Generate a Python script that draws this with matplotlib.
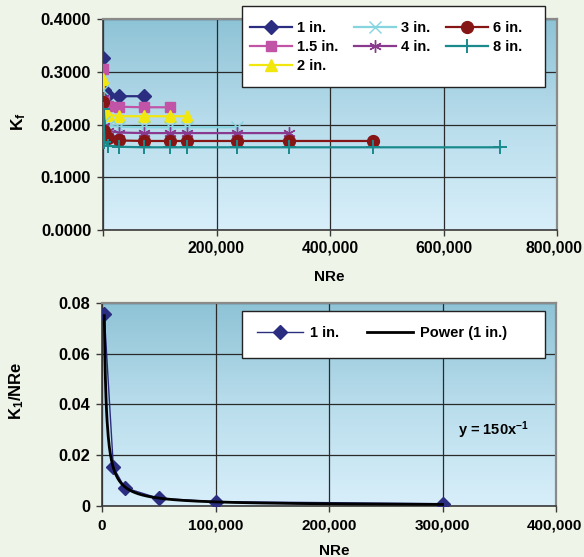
import numpy as np
import matplotlib
matplotlib.use("Agg")
import matplotlib.pyplot as plt
from matplotlib.patches import Rectangle
from matplotlib.transforms import ScaledTranslation

plt.rcParams['font.family'] = ['Liberation Sans', 'DejaVu Sans']
plt.rcParams['font.weight'] = 'bold'
plt.rcParams['mathtext.fontset'] = 'custom'
plt.rcParams['mathtext.rm'] = 'Liberation Sans:bold'
plt.rcParams['mathtext.it'] = 'Liberation Sans:bold'
plt.rcParams['mathtext.bf'] = 'Liberation Sans:bold'

# ---------------- data ----------------
nre_grid = [800, 2500, 9000, 28000, 72000, 118000, 148000, 237000, 327000, 476000, 700000]
sizes = ["1 in.", "1.5 in.", "2 in.", "3 in.", "4 in.", "6 in.", "8 in."]
kf_1in = [0.327, 0.266, 0.256, 0.254, 0.254]
kf_15in = [0.306, 0.245, 0.236, 0.234, 0.233, 0.233]
kf_2in = [0.287, 0.226, 0.219, 0.216, 0.216, 0.216, 0.216]
kf_3in = [0.265, 0.205, 0.198, 0.196, 0.195, 0.195, 0.195, 0.195]
kf_4in = [0.250, 0.198, 0.188, 0.185, 0.184, 0.184, 0.184, 0.184, 0.184]
kf_6in = [0.243, 0.187, 0.174, 0.170, 0.169, 0.169, 0.169, 0.169, 0.169, 0.169]
kf_8in = [0.230, 0.168, 0.160, 0.158, 0.157, 0.157, 0.157, 0.157, 0.157, 0.157, 0.157]

nre_1in = [2000, 10000, 20000, 50000, 100000, 300000]
k1_over_nre = [0.0755, 0.0152, 0.0071, 0.0029, 0.0016, 0.0008]
trend_coef = 150.0
trend_exp = -1.0

top_xticks = [0, 200000, 400000, 600000, 800000]
top_xlabels = ["", "200,000", "400,000", "600,000", "800,000"]
top_yticks = [0.0, 0.1, 0.2, 0.3, 0.4]
top_ylabels = ["0.0000", "0.1000", "0.2000", "0.3000", "0.4000"]
bot_xticks = [0, 100000, 200000, 300000, 400000]
bot_xlabels = ["0", "100,000", "200,000", "300,000", "400,000"]
bot_yticks = [0, 0.02, 0.04, 0.06, 0.08]
bot_ylabels = ["0", "0.02", "0.04", "0.06", "0.08"]

# ---------------- styles ----------------
W, H = 584, 557
fig = plt.figure(figsize=(W / 100, H / 100), dpi=100)
fig.patch.set_facecolor('#EFF4E8')

def px_rect(l, t, r, b):
    return [l / W, 1 - b / H, (r - l) / W, (b - t) / H]

grad_cmap = matplotlib.colors.LinearSegmentedColormap.from_list(
    'bg', ['#D8EFFA', '#B9DDEC', '#8EC3D6'])

def style_axes(ax, xlim, ylim):
    grad = np.linspace(0, 1, 256).reshape(-1, 1)
    ax.imshow(grad, cmap=grad_cmap, origin='lower', extent=(0, 1, 0, 1),
              transform=ax.transAxes, aspect='auto', zorder=-10)
    ax.set_xlim(*xlim)
    ax.set_ylim(*ylim)
    ax.grid(True, color='#2a2a2a', linewidth=0.9, zorder=0)
    ax.set_axisbelow(True)
    for s in ['top', 'right']:
        ax.spines[s].set_color('#8a8a8a')
        ax.spines[s].set_linewidth(1.6)
    for s in ['left', 'bottom']:
        ax.spines[s].set_color('#3a3a3a')
        ax.spines[s].set_linewidth(1.2)
    ax.tick_params(direction='out', length=4.5, width=1.0, color='#3a3a3a')

# ---------------- top chart ----------------
ax1 = fig.add_axes(px_rect(103, 19.3, 557, 230))
style_axes(ax1, (0, 800000), (0, 0.4))

series = [
    (kf_1in, '#2B2E80', 'D', 7, 1.6, None),
    (kf_15in, '#C254A8', 's', 6.5, 1.6, None),
    (kf_2in, '#F2E60F', '^', 8, 1.6, None),
    (kf_3in, '#86D4E0', 'x', 8, 1.6, 1.0),
    (kf_4in, '#8A3A8E', (6, 2, 0), 9, 1.6, 1.0),
    (kf_6in, '#861515', 'o', 8.5, 1.6, None),
    (kf_8in, '#1A8A8C', '+', 10, 1.6, 1.4),
]
handles = []
for (vals, col, mk, ms, lw, mew), lab in zip(series, sizes):
    kw = dict(color=col, marker=mk, markersize=ms, linewidth=lw,
              markerfacecolor=col, markeredgecolor=col, label=lab, zorder=3)
    if mew is not None:
        kw['markeredgewidth'] = mew
    h, = ax1.plot(nre_grid[:len(vals)], vals, **kw)
    handles.append(h)

ax1.set_xticks(top_xticks)
ax1.set_xticklabels(top_xlabels, fontsize=11.3, fontweight='bold')
ax1.set_yticks(top_yticks)
ax1.set_yticklabels(top_ylabels, fontsize=12, fontweight='bold')
ax1.tick_params(axis='x', pad=3)
ax1.tick_params(axis='y', pad=4)
last = ax1.get_xticklabels()[-1]
last.set_transform(last.get_transform() + ScaledTranslation(-2.5 / 72, 0, fig.dpi_scale_trans))

fig.text(329 / W, 1 - 276.7 / H, "NRe", ha='center', va='center',
         fontsize=11, fontweight='bold')
fig.text(19 / W, 1 - 122 / H, "K$_f$", ha='center', va='center',
         rotation=90, fontsize=12.5, fontweight='bold')

# top legend box
fig.patches.append(Rectangle((242 / W, 1 - 87 / H), 303 / W, 81 / H,
                             transform=fig.transFigure, facecolor='white',
                             edgecolor='#222222', linewidth=1.0, zorder=5))
leg1 = fig.legend(handles=handles, loc='upper left',
                  bbox_to_anchor=(250 / W, 1 - 21.5 / H), ncol=3,
                  frameon=False, borderpad=0, borderaxespad=0,
                  handlelength=2.9, handletextpad=0.3, columnspacing=1.1,
                  labelspacing=0.33, prop={'size': 10.5, 'weight': 'bold'})
leg1.set_zorder(6)

# ---------------- bottom chart ----------------
ax2 = fig.add_axes(px_rect(102, 303, 556, 505.7))
style_axes(ax2, (0, 400000), (0, 0.08))

xt = np.linspace(min(nre_1in), max(nre_1in), 600)
h_data, = ax2.plot(nre_1in, k1_over_nre, color='#2B2E80', marker='D',
                   markersize=7, linewidth=1.0, label='1 in.', zorder=3)
h_tr, = ax2.plot(xt, trend_coef * xt ** trend_exp, color='black',
                 linewidth=2.0, label='Power (1 in.)', zorder=4)

ax2.set_xticks(bot_xticks)
ax2.set_xticklabels(bot_xlabels, fontsize=11, fontweight='bold')
ax2.set_yticks(bot_yticks)
ax2.set_yticklabels(bot_ylabels, fontsize=11.8, fontweight='bold')
ax2.tick_params(axis='x', pad=5)
ax2.tick_params(axis='y', pad=4)
last2 = ax2.get_xticklabels()[-1]
last2.set_transform(last2.get_transform() + ScaledTranslation(-1 / 72, 0, fig.dpi_scale_trans))

fig.text(334 / W, 1 - 551 / H, "NRe", ha='center', va='center',
         fontsize=11, fontweight='bold')
fig.text(17 / W, 1 - 391 / H, "K$_1$/NRe", ha='center', va='center',
         rotation=90, fontsize=12, fontweight='bold')
fig.text(493 / W, 1 - 430 / H, "y = 150x$^{\u22121}$", ha='center', va='center',
         fontsize=10.5, fontweight='bold')

fig.patches.append(Rectangle((242 / W, 1 - 358 / H), 303 / W, 47.3 / H,
                             transform=fig.transFigure, facecolor='white',
                             edgecolor='#222222', linewidth=1.0, zorder=5))
leg2 = fig.legend(handles=[h_data, h_tr], loc='upper left',
                  bbox_to_anchor=(257 / W, 1 - 326 / H), ncol=2,
                  frameon=False, borderpad=0, borderaxespad=0,
                  handlelength=3.15, handletextpad=0.5, columnspacing=1.9,
                  prop={'size': 10.5, 'weight': 'bold'})
leg2.set_zorder(6)

fig.savefig('out.png', dpi=100, facecolor=fig.get_facecolor())
